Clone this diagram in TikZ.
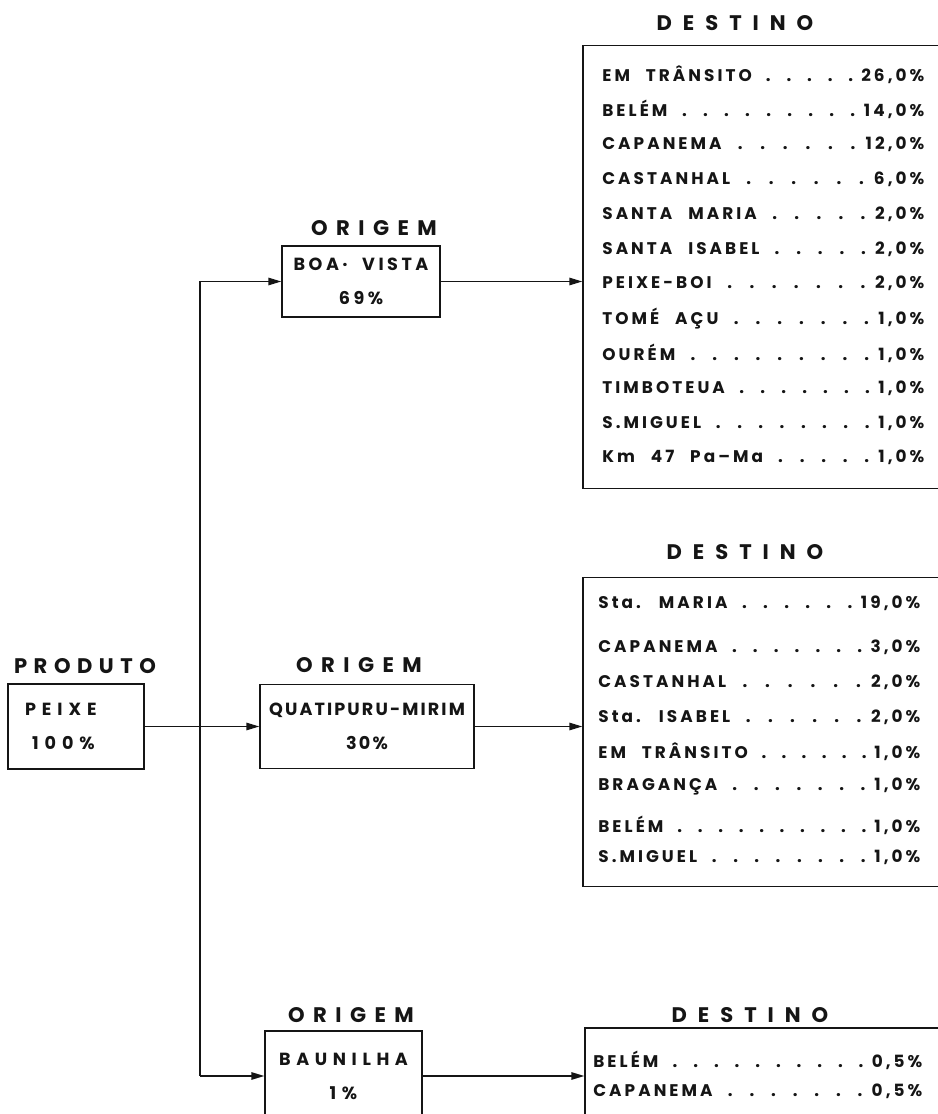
\documentclass[tikz,border=0pt]{standalone}
\usepackage{fontspec}
\newfontfamily\letreiro[LetterSpace=18, WordSpace=2.4]{Poppins}
\newcommand{\fontcaixa}[1]{\fontspec[LetterSpace=#1, WordSpace=2]{Poppins}\bfseries\fontsize{10}{19.4}\selectfont}
\newcommand{\fonttitulo}[1]{\fontspec[LetterSpace=#1]{Poppins}\bfseries\fontsize{12}{14}\selectfont}
\usepackage{tikz}
\usetikzlibrary{arrows.meta,calc,positioning}
\definecolor{Tinta}{HTML}{151515}
\newcommand{\destlinha}[3][6.44cm]{\hbox to #1{#2\hskip .12cm\xleaders\hbox to .4cm{\hss.\hss}\hfill#3}}

\begin{document}
\begin{tikzpicture}[
  x=1cm, y=1cm,
  font=\letreiro\bfseries\fontsize{9.6}{12}\selectfont,
  titulo/.style={font=\fonttitulo{#1}, inner sep=0pt, text=Tinta},
  titulo/.default=52,
  caixa/.style={draw=Tinta, line width=.8pt, align=center, inner sep=0pt,
    font=\fontcaixa{#1}, text=Tinta},
  caixa/.default=12,
  destbox/.style={draw=Tinta, line width=.8pt, inner sep=0pt},
  linha/.style={anchor=west, inner sep=0pt, text=Tinta, font=\letreiro\bfseries\fontsize{9.6}{12}\selectfont},
  flow/.style={-{Triangle[length=2.6mm,width=1.5mm]}, line width=.8pt, draw=Tinta},
  tronco/.style={line width=1.4pt, draw=Tinta}
]
\useasboundingbox (0,0) rectangle (18.76,22.28);
\clip (0,0) rectangle (18.76,22.28);

% Product and the three origins.
\node[titulo=31] (tproduto) at (1.70,8.96) {PRODUTO};
\node[caixa=34, minimum width=2.72cm, minimum height=1.70cm, text width=2.04cm, align=left] (produto) at (1.52,7.75)
  {PEIXE\\\hspace*{.14cm}100\%};

\node[titulo=40] (torigemA) at (7.48,17.72) {ORIGEM};
\node[caixa=20, minimum width=3.16cm, minimum height=1.42cm] (boavista) at (7.22,16.65) {BOA· VISTA\\69\%};

\node[titulo=40] (torigemB) at (7.18,8.98) {ORIGEM};
\node[caixa, minimum width=4.28cm, minimum height=1.68cm] (quatipuru) at (7.34,7.75) {QUATIPURU-MIRIM\\30\%};

\node[titulo=40] (torigemC) at (7.02,1.98) {ORIGEM};
\node[caixa=32, minimum width=3.14cm, minimum height=1.80cm] (baunilha) at (6.87,0.76) {BAUNILHA\\1\%};

% Destination boxes run off the right edge of the sheet.
\node[titulo] (tdestA) at (14.70,21.82) {DESTINO};
\node[destbox, minimum width=7.54cm, minimum height=8.86cm] (destA) at (15.43,16.94) {};
\foreach \nome/\pct [count=\i] in {{EM TRÂNSITO}/{26,0\%}, {BELÉM}/{14,0\%}, {CAPANEMA}/{12,0\%},
    {CASTANHAL}/{6,0\%}, {SANTA MARIA}/{2,0\%}, {SANTA ISABEL}/{2,0\%}, {PEIXE-BOI}/{2,0\%},
    {TOMÉ AÇU}/{1,0\%}, {OURÉM}/{1,0\%}, {TIMBOTEUA}/{1,0\%}, {S.MIGUEL}/{1,0\%}, {Km 47 Pa–Ma}/{1,0\%}}
  \node[linha] (a\i) at (12.04,{20.78-0.696*(\i-1)}) {\destlinha{\nome}{\pct}};

\node[titulo] (tdestB) at (14.90,11.24) {DESTINO};
\node[destbox, minimum width=7.54cm, minimum height=6.18cm] (destB) at (15.43,7.64) {};
\foreach \nome/\pct/\yy [count=\i] in {{Sta. MARIA}/{19,0\%}/10.22, {CAPANEMA}/{3,0\%}/9.34,
    {CASTANHAL}/{2,0\%}/8.64, {Sta. ISABEL}/{2,0\%}/7.94, {EM TRÂNSITO}/{1,0\%}/7.24,
    {BRAGANÇA}/{1,0\%}/6.54, {BELÉM}/{1,0\%}/5.78, {S.MIGUEL}/{1,0\%}/5.14}
  \node[linha] (b\i) at (11.96,\yy) {\destlinha{\nome}{\pct}};

\node[titulo] (tdestC) at (15.00,1.98) {DESTINO};
\node[destbox, minimum width=7.50cm, minimum height=1.94cm] (destC) at (15.45,0.75) {};
\node[linha] (c1) at (11.86,1.08) {\destlinha[6.58cm]{BELÉM}{0,5\%}};
\node[linha] (c2) at (11.86,0.46) {\destlinha[6.58cm]{CAPANEMA}{0,5\%}};

% Connectors.
\coordinate (tronco) at (4.00,7.75);
\draw[tronco] (tronco |- boavista.west) -- (tronco |- baunilha.west);
\draw[flow] (produto) -- (quatipuru);
\draw[flow] (tronco |- boavista.west) -- (boavista);
\draw[flow] (tronco |- baunilha.west) -- (baunilha);
\draw[flow] (boavista) -- (boavista -| destA.west);
\draw[flow] (quatipuru) -- (quatipuru -| destB.west);
\draw[flow] (baunilha) -- (baunilha -| destC.west);
\end{tikzpicture}
\end{document}
